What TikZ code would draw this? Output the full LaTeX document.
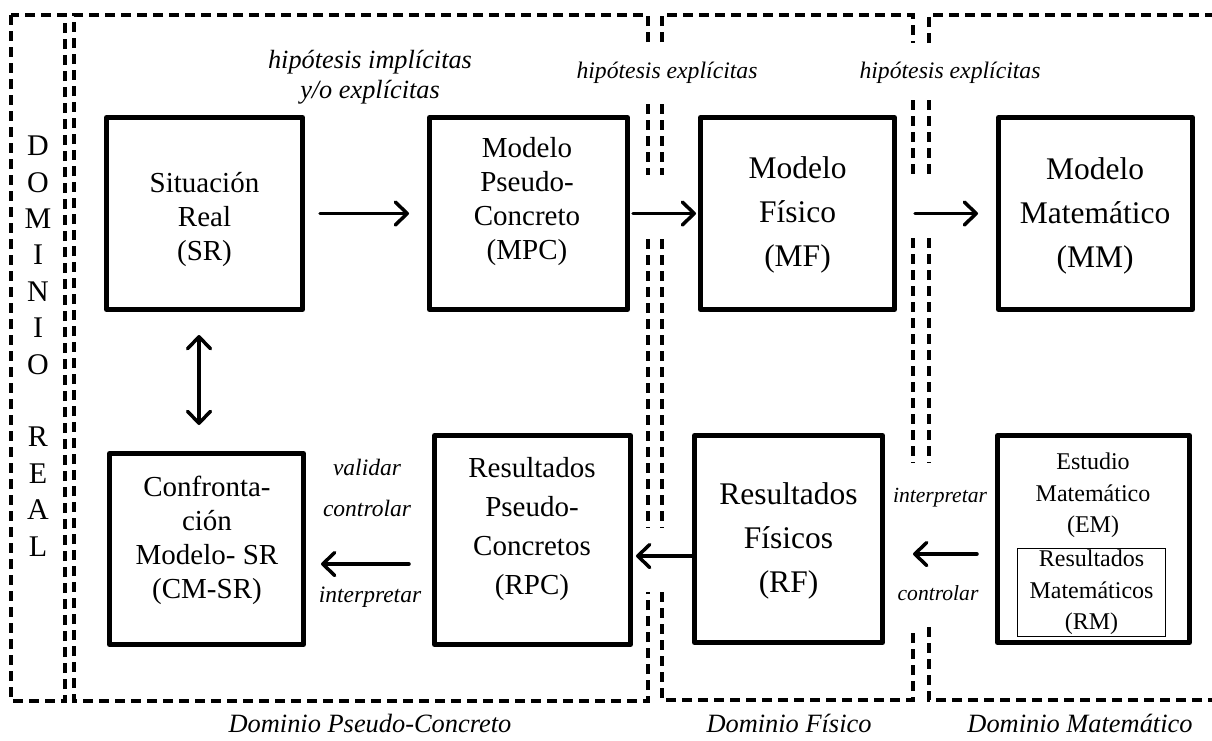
\documentclass[tikz,border=0pt]{standalone}
\usepackage{fontspec}
\setmainfont{Liberation Serif}
\usetikzlibrary{arrows.meta}

\newcommand{\fsz}[2]{\fontsize{#1}{#2}\selectfont}

\begin{document}
\begin{tikzpicture}[x=1pt,y=-1pt,
  frame/.style={line width=3.5pt,dash pattern=on 10pt off 6pt},
  box/.style={draw,line width=5pt,line join=round,inner sep=0pt},
  txt/.style={align=center,inner sep=0pt,font=\fsz{29}{34}},
  big/.style={align=center,inner sep=0pt,font=\fsz{31.5}{44}},
  small/.style={align=center,inner sep=0pt,font=\fsz{24}{31.5}},
  note/.style={align=center,inner sep=0pt,font=\fsz{23.5}{41}\itshape},
  link/.style={line width=3.5pt,line cap=round,
    >={Straight Barb[length=12pt,width=23pt,round]}}]
\useasboundingbox (0,0) rectangle (1212,740);

% dominios
\draw[frame] (11,15) rectangle (65,701);
\draw[frame] (648,42)--(648,15)--(74,15)--(74,701)--(648,701)--(648,592)
  (648,104)--(648,175) (648,239)--(648,528);
\draw[frame] (662,42)--(662,15)--(913,15)--(913,43) (662,104)--(662,175)
  (913,100)--(913,175) (662,239)--(662,528) (913,238)--(913,463)
  (662,592)--(662,700)--(913,700)--(913,627);
\draw[frame] (929,43)--(929,15)--(1230,15) (929,100)--(929,175)
  (929,238)--(929,463) (929,627)--(929,700)--(1230,700);

% cajas
\node[box,minimum width=196pt,minimum height=192pt] (sr) at (204.5,213.5) {};
\node[box,minimum width=198pt,minimum height=192pt] (mpc) at (528.5,213.5) {};
\node[box,minimum width=194pt,minimum height=192pt] (mf) at (797.5,213.5) {};
\node[box,minimum width=194pt,minimum height=192pt] (mm) at (1095.5,213.5) {};
\node[box,minimum width=194pt,minimum height=191pt] (cm) at (206.5,549) {};
\node[box,minimum width=196pt,minimum height=209pt] (rpc) at (532.5,540) {};
\node[box,minimum width=188pt,minimum height=207pt] (rf) at (788.5,539) {};
\node[box,minimum width=192pt,minimum height=207pt] (em) at (1093.5,539) {};
\node[draw,line width=1pt,inner sep=0pt,minimum width=148pt,minimum height=88pt,
  small] (rm) at (1091.5,592.5) {Resultados\\Matemáticos\\(RM)};

\node[txt] (sr-t) at (204.5,219.5) {Situación\\Real\\(SR)};
\node[txt] (mpc-t) at (527,202) {Modelo\\Pseudo-\\Concreto\\(MPC)};
\node[big] (mf-t) at (797.5,215) {Modelo\\Físico\\(MF)};
\node[big] (mm-t) at (1095,216) {Modelo\\Matemático\\(MM)};
\node[txt] (cm-t) at (207,540) {Confronta-\\ción\\Modelo- SR\\(CM-SR)};
\node[txt,font=\fsz{29}{39}] (rpc-t) at (532,529) {Resultados\\Pseudo-\\Concretos\\(RPC)};
\node[big] (rf-t) at (788.5,541) {Resultados\\Físicos\\(RF)};
\node[small] (em-t) at (1093,495.5) {Estudio\\Matemático\\(EM)};

\node[txt,font=\fsz{30}{36.4}] (real) at (38,346) {D\\O\\M\\I\\N\\I\\O\\\mbox{}\\R\\E\\A\\L};

% hipotesis y acciones
\node[note,font=\fsz{26.3}{30}\itshape] (hip1) at (370,77) {hipótesis implícitas\\y/o explícitas};
\node[note,font=\fsz{23.7}{30}\itshape] (hip2) at (667,73) {hipótesis explícitas};
\node[note,font=\fsz{23.7}{30}\itshape] (hip3) at (950,73) {hipótesis explícitas};
\node[note] (val) at (367,487.5) {validar\\controlar};
\node[note] (int1) at (370,597) {interpretar};
\node[note,font=\fsz{21.6}{30}\itshape] (int2) at (940,498) {interpretar};
\node[note,font=\fsz{21.6}{30}\itshape] (ctl) at (938,593) {controlar};

\node[note,font=\fsz{26.4}{30}\itshape,anchor=base] (dpc) at (370,732) {Dominio Pseudo-Concreto};
\node[note,font=\fsz{26.4}{30}\itshape,anchor=base] (dfi) at (789,732) {Dominio Físico};
\node[note,font=\fsz{26.4}{30}\itshape,anchor=base] (dma) at (1080,732) {Dominio Matemático};

% flechas
\draw[link,->,shorten <=15pt,shorten >=18pt] (sr) -- (mpc);
\draw[link,->,shorten <=3pt,shorten >=2pt] (mpc) -- (mf);
\draw[link,->,shorten <=18pt,shorten >=18pt] (mf) -- (mm);
\draw[link,<->,shorten <=23pt,shorten >=26pt] ([xshift=-5.5pt]sr.south)
  -- ([xshift=-5.5pt]sr.south |- cm.north);
\draw[link,->,shorten >=3pt] ([yshift=-17pt]rf.west) -- ([yshift=-17pt]rf.west -| rpc.east);
\draw[link,->,shorten <=23pt,shorten >=15pt] ([yshift=-24pt]rpc.west)
  -- ([yshift=-24pt]rpc.west -| cm.east);
\draw[link,->,shorten <=18pt,shorten >=28pt] ([yshift=-15pt]em.west)
  -- ([yshift=-15pt]em.west -| rf.east);
\end{tikzpicture}
\end{document}
